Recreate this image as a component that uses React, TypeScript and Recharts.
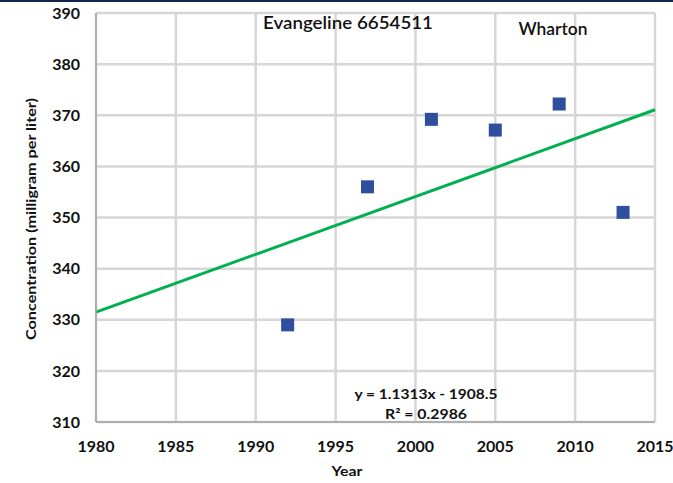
import { ScatterChart, Scatter, XAxis, YAxis, CartesianGrid, ReferenceLine } from 'recharts';

// Sampled concentrations, well 6654511 (Evangeline aquifer, Wharton county)
const years = [1992, 1997, 2001, 2005, 2009, 2013];
const concentrations = [329, 356, 369.2, 367.1, 372.2, 351];

const yearTicks = [1980, 1985, 1990, 1995, 2000, 2005, 2010, 2015];
const concTicks = [310, 320, 330, 340, 350, 360, 370, 380, 390];

// Linear fit reported on the chart
const slope = 1.1313;
const intercept = -1908.5;
const rSquared = 0.2986;

const samples = years.map((year, i) => ({ year, value: concentrations[i] }));
const trendFrom = { x: yearTicks[0], y: slope * yearTicks[0] + intercept };
const trendTo = { x: yearTicks[yearTicks.length - 1], y: slope * yearTicks[yearTicks.length - 1] + intercept };

const font = 'Lato, "Open Sans", sans-serif';
const tickStyle = { fill: '#111', fontSize: 16, fontWeight: 700, fontFamily: font };

const SquareMarker = (props: any) => {
  const { cx, cy } = props;
  return <rect x={cx - 6.5} y={cy - 6.5} width={13} height={13} fill="#2E4E9E" />;
};

export default function App() {
  return (
    <div style={{ position: 'absolute', left: 0, top: 0, width: 673, height: 483, background: '#fff' }}>
      <div style={{ position: 'absolute', left: 0, top: 0, width: 673, height: 2, background: '#13244a' }} />
      <ScatterChart width={673} height={483} margin={{ top: 13, right: 18, bottom: 31, left: 0 }}>
        <CartesianGrid stroke="#d6d6d6" strokeWidth={2.5} />
        <XAxis
          type="number"
          dataKey="year"
          domain={[1980, 2015]}
          ticks={yearTicks}
          height={30}
          tickLine={false}
          tickSize={0}
          tickMargin={19}
          stroke="#a0a0a0"
          strokeWidth={1.5}
          tick={tickStyle}
        />
        <YAxis
          type="number"
          dataKey="value"
          domain={[310, 390]}
          ticks={concTicks}
          width={96}
          tickLine={false}
          tickSize={0}
          tickMargin={16}
          stroke="#a0a0a0"
          strokeWidth={1.5}
          tick={tickStyle}
        />
        <ReferenceLine
          segment={[trendFrom, trendTo]}
          stroke="#00B050"
          strokeWidth={3}
          ifOverflow="visible"
        />
        <Scatter data={samples} shape={SquareMarker} isAnimationActive={false} />
        <text x={348} y={22} textAnchor="middle" dominantBaseline="central" fontFamily={font} fontSize={17} fontWeight={600} fill="#111" textLength={170} lengthAdjust="spacingAndGlyphs">
          Evangeline 6654511
        </text>
        <text x={553} y={28} textAnchor="middle" dominantBaseline="central" fontFamily={font} fontSize={17} fontWeight={600} fill="#111" textLength={69} lengthAdjust="spacingAndGlyphs">
          Wharton
        </text>
        <text x={426} y={393} textAnchor="middle" dominantBaseline="central" fontFamily={font} fontSize={14} fontWeight={700} fill="#111" textLength={143} lengthAdjust="spacingAndGlyphs">
          {`y = ${slope}x - ${Math.abs(intercept)}`}
        </text>
        <text x={426} y={413} textAnchor="middle" dominantBaseline="central" fontFamily={font} fontSize={14} fontWeight={700} fill="#111" textLength={82} lengthAdjust="spacingAndGlyphs">
          {`R² = ${rSquared}`}
        </text>
        <text x={347} y={470} textAnchor="middle" dominantBaseline="central" fontFamily={font} fontSize={14} fontWeight={700} fill="#111" textLength={31} lengthAdjust="spacingAndGlyphs">
          Year
        </text>
        <text
          x={30}
          y={219}
          transform="rotate(-90 30 219)"
          textAnchor="middle"
          dominantBaseline="central"
          fontFamily={font}
          fontSize={14}
          fontWeight={700}
          fill="#111"
          textLength={242}
          lengthAdjust="spacingAndGlyphs"
        >
          Concentration (milligram per liter)
        </text>
      </ScatterChart>
    </div>
  );
}
